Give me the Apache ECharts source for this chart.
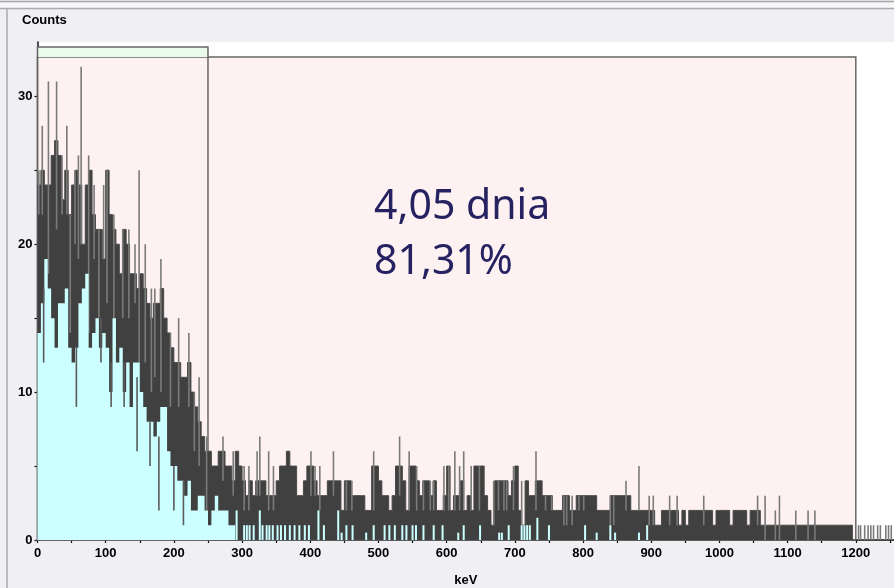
<!DOCTYPE html>
<html><head><meta charset="utf-8">
<script src="https://cdn.jsdelivr.net/npm/echarts@6/dist/echarts.min.js"></script>
<style>html,body{margin:0;padding:0;background:#EFEFF4}#c{width:894px;height:588px}</style>
</head><body><div id="c"></div>
<script>
// ---- data (counts per 5 keV bin, starting at 0 keV) ----
const binWidthKeV = 5;
const darkCounts = [
 24,25,24,24,26,27,26,23,25,22,24,25,24,20,24,25,22,21,21,19,25,22,21,20,18,21,
 20,18,18,17,18,17,16,15,16,16,17,15,14,13,12,12,11,11,12,10,9,8,7,6,6,5,
 5,6,6,5,5,4,6,5,4,3,4,3,4,4,4,3,3,3,4,5,5,6,5,5,3,3,4,5,5,4,3,3,3,4,4,4,4,2,4,4,3,3,3,3,2,2,5,5,
 4,3,3,2,3,5,5,4,2,5,5,4,3,4,4,3,4,2,2,3,5,2,3,3,4,2,3,2,5,5,5,3,2,1,4,4,4,4,3,4,5,2,1,4,3,3,4,4,3,3,
 3,2,2,2,3,3,2,2,3,3,3,3,3,3,2,2,2,2,3,3,3,3,3,3,2,2,2,2,2,2,2,1,1,2,2,2,2,2,1,2,1,2,2,2,2,2,2,2,1,2,
 2,2,2,1,2,2,2,2,1,2,2,2,1,1,1,1,1,1,1,1,1,1,1,1,1,1,1,1,1,1,1,1,1,1,1,1,1,1,1,0,0,0,0,0,0,0,0,0,0,0,0
];
const cyanCounts = [
 14,16,19,17,15,13,16,16,17,13,12,13,16,17,18,13,14,15,13,14,
 13,10,15,12,13,10,12,9,12,12,10,9,8,8,7,8,9,9,6,5,
 5,4,4,3,4,2,2,3,3,2,1,2,3,2,2,2,1,1
];
// single-channel fluctuations [keV, lowest, highest]
const darkSpikes = [
 [2,22,25],[7,22,28],[16,18,31],[28,21,31],[36,22,26],[43,22,28],[48,14,22],[55,20,25],[60,19,26],[64,20,32],
 [75,14,26],[83,19,24],[90,15,21],[97,19,24],[102,16,25],[112,13,22],[125,15,21],[134,15,21],[143,16,20],
 [149,12,25],[158,12,20],[167,10,17],[172,11,17],[181,10,19],[195,9,14],[207,9,15],[222,9,14],[230,6,10],
 [237,5,11],[248,2,7],
 [272,4,7],[287,3,6],[303,2,5],[310,2,5],[322,3,6],[326,3,7],[339,2,6],[346,2,5],[401,3,6],[407,3,5],[414,2,5],
 [434,3,6],[453,2,4],[461,2,4],[493,2,6],[531,3,7],[545,2,6],[556,2,5],[566,2,4],[576,2,4],[581,2,4],[596,2,5],
 [603,2,5],[612,2,6],[619,2,5],[625,2,6],[636,2,5],[648,2,5],[669,1,4],[676,2,4],[684,2,4],[688,2,4],[698,2,5],
 [710,1,4],[731,2,6],[745,2,3],[754,2,3],[772,1,3],[776,1,3],[784,1,3],[794,2,3],[801,2,3],[840,1,3],[845,1,3],
 [863,2,4],[882,2,5],[897,1,3],[903,1,3],[927,1,3],[938,1,3],[977,1,3],[1056,1,3],[1067,0,3],[1082,0,2],
 [1088,0,3],[1112,0,2],[1130,0,2],[1140,0,2],
 [1204,0,1],[1207,0,1],[1213,0,1],[1218,0,1],[1222,0,1],[1226,0,1],[1232,0,1],[1236,0,1],[1244,0,1],[1248,0,1],[1252,0,1]
];
// dark dips inside the light spectrum [keV, lowest, highest]
const cyanDips = [
 [9,12,17],[57,9,13],[93,12,15],[108,9,12],[127,9,12],[146,6,11],[165,5,8],[178,2,7],[200,2,5],[214,1,4]
];
const cyanSparse = [
 [292,2],[303,1],[307,1],[311,1],[317,1],[326,2],[330,1],[336,1],[340,1],[345,1],[352,1],[357,1],[363,1],
 [370,1],[377,1],[384,1],[392,1],[398,1],[412,2],[420,1],[441,2],[446,0.5],[453,1],[462,1],[482,0.5],[493,1],
 [509,1],[516,1],[524,1],[535,1],[541,1],[550,1],[555,1],[566,1],[581,1],[594,1],[617,0.5],[625,1],[649,1],
 [677,0.5],[681,0.5],[691,1],[710,1],[714,1],[718,1],[722,1],[733,1.5],[750,1],[803,1],[820,0.5],[840,1],
 [847,0.5],[882,0.5],[894,1]
];
const xTickValues = [0,50,100,150,200,250,300,350,400,450,500,550,600,650,700,750,800,850,900,950,1000,1050,1100,1150,1200,1250];
const xLabelValues = [0,100,200,300,400,500,600,700,800,900,1000,1100,1200];
const yTickValues = [0,5,10,15,20,25,30];
const yLabelValues = [0,10,20,30];
const roiEndKeV = 250, regionEndKeV = 1200, regionTop = 32.66, roiTop = 33.33;
const annotationLines = ['4,05 dnia', '81,31%'];
const yAxisTitle = 'Counts', xAxisTitle = 'keV';

function toSteps(arr) {
  const pts = arr.map((v, i) => [i * binWidthKeV, v]);
  pts.push([arr.length * binWidthKeV, arr[arr.length - 1]]);
  return pts;
}
function renderRangeLine(params, api) {
  const hi = api.coord([api.value(0), api.value(2)]);
  const lo = api.coord([api.value(0), api.value(1)]);
  return {type: 'rect', shape: {x: hi[0] - 0.8, y: hi[1], width: 1.6, height: lo[1] - hi[1]},
          style: {fill: api.visual('color')}};
}

const chart = echarts.init(document.getElementById('c'), null, {renderer: 'canvas'});
const labelFont = {color: '#000', fontFamily: 'Liberation Sans', fontSize: 13, fontWeight: 'bold'};
const option = {
  backgroundColor: '#EFEFF4',
  animation: false,
  grid: {left: 37.5, right: 0, top: 42, bottom: 48, show: true, backgroundColor: '#ffffff', borderWidth: 0,
         containLabel: false, outerBoundsMode: 'none'},
  xAxis: {
    type: 'value', min: 0, max: 1256, interval: 50,
    name: xAxisTitle, nameLocation: 'middle', nameGap: 34,
    nameTextStyle: labelFont,
    axisLine: {show: true, onZero: false, lineStyle: {color: '#111', width: 1.5}},
    axisTick: {show: true, length: 3, customValues: xTickValues, lineStyle: {color: '#111', width: 1.2}},
    axisLabel: Object.assign({customValues: xLabelValues, margin: 7, formatter: v => String(v)}, labelFont),
    splitLine: {show: false}
  },
  yAxis: {
    type: 'value', min: 0, max: 33.67, interval: 5,
    axisLine: {show: true, onZero: false, lineStyle: {color: '#111', width: 1.5}},
    axisTick: {show: true, length: 3, customValues: yTickValues, lineStyle: {color: '#111', width: 1.2}},
    axisLabel: Object.assign({customValues: yLabelValues, margin: 5, formatter: v => String(v)}, labelFont),
    splitLine: {show: false}
  },
  graphic: [
    {type: 'rect', shape: {x: 0, y: 0, width: 894, height: 9}, style: {fill: '#F6F6F8'}, silent: true},
    {type: 'line', shape: {x1: 0, y1: 1.5, x2: 894, y2: 1.5}, style: {stroke: '#A4A4A4', lineWidth: 1.5}, silent: true},
    {type: 'line', shape: {x1: 0, y1: 8.5, x2: 894, y2: 8.5}, style: {stroke: '#ABABAB', lineWidth: 1.5}, silent: true},
    {type: 'line', shape: {x1: 7, y1: 9, x2: 7, y2: 588}, style: {stroke: '#ABABAB', lineWidth: 1.5}, silent: true},
    {type: 'text', x: 22, y: 20, style: {text: yAxisTitle, fill: '#000', font: 'bold 13px "Liberation Sans"', verticalAlign: 'middle'}, silent: true},
    {type: 'text', x: 374, y: 207, z: 20, style: {text: annotationLines[0], fill: '#262262', font: '41px "Noto Sans"', verticalAlign: 'middle'}, silent: true},
    {type: 'text', x: 374, y: 262, z: 20, style: {text: annotationLines[1], fill: '#262262', font: '41px "Noto Sans"', verticalAlign: 'middle'}, silent: true}
  ],
  series: [
    {
      type: 'line', data: [[0, 0]], symbol: 'none', lineStyle: {opacity: 0}, z: 1, silent: true,
      markArea: {
        silent: true, z: 1, label: {show: false},
        data: [
          [{coord: [0, 0], itemStyle: {color: '#FDF2F1', borderColor: '#666', borderWidth: 1.5, opacity: 1}}, {coord: [regionEndKeV, regionTop]}],
          [{coord: [0, regionTop], itemStyle: {color: '#EBFBEC', borderWidth: 0, opacity: 1}}, {coord: [roiEndKeV, roiTop]}],
          [{coord: [0, 0], itemStyle: {color: 'rgba(0,0,0,0)', borderColor: '#666', borderWidth: 1.5, opacity: 1}}, {coord: [roiEndKeV, roiTop]}]
        ]
      }
    },
    {type: 'line', step: 'end', data: toSteps(darkCounts), symbol: 'none', showSymbol: false, sampling: null,
     lineStyle: {color: '#4a4a4a', width: 1}, areaStyle: {color: '#404040', opacity: 1}, z: 3, silent: true},
    {type: 'custom', data: darkSpikes, encode: {x: 0, y: [1, 2]}, renderItem: renderRangeLine,
     itemStyle: {color: '#7a7a7a'}, z: 4, silent: true},
    {type: 'line', step: 'end', data: toSteps(cyanCounts), symbol: 'none', showSymbol: false,
     lineStyle: {opacity: 0}, areaStyle: {color: '#CCFFFF', opacity: 1}, z: 5, silent: true},
    {type: 'custom', data: cyanDips, encode: {x: 0, y: [1, 2]}, renderItem: renderRangeLine,
     itemStyle: {color: '#5a5a5a'}, z: 6, silent: true},
    {type: 'bar', data: cyanSparse, barWidth: 2, itemStyle: {color: '#CCFFFF'}, z: 6, silent: true}
  ]
};
chart.setOption(option);
</script>
</body></html>
